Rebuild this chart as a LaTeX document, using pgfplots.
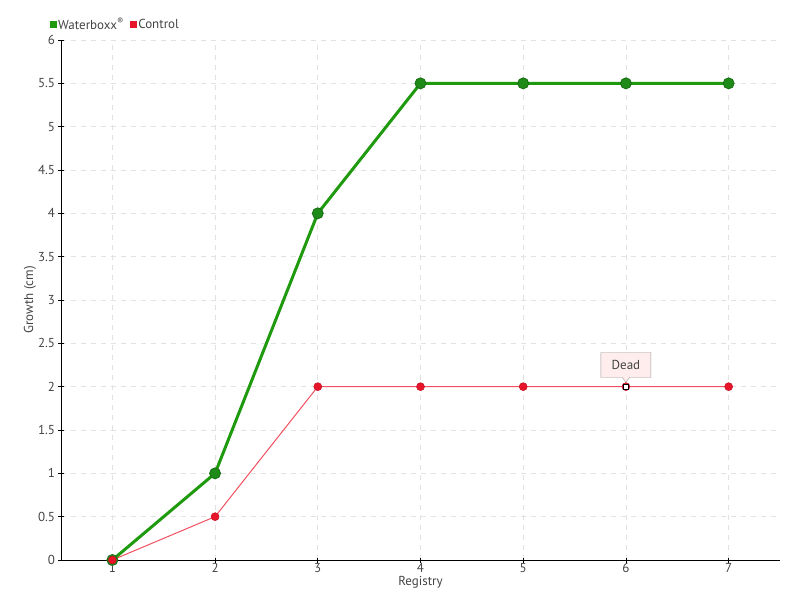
\documentclass[border=0pt]{standalone}
\usepackage{pgfplots}
\pgfplotsset{compat=1.18}
\usepackage{fontspec}
\setmainfont{PT Sans}
\usetikzlibrary{shapes.callouts}
\definecolor{wgreen}{HTML}{1F9A0E}
\definecolor{wgreenm}{HTML}{1E8A18}
\definecolor{cred}{HTML}{E8142A}
\definecolor{cline}{HTML}{F0505F}
\definecolor{txt}{HTML}{444444}
\definecolor{gridc}{HTML}{E2E2E2}
\begin{document}
\begin{tikzpicture}
\useasboundingbox (0,0) rectangle (800pt,600pt);
\begin{axis}[
  at={(61pt,40pt)}, anchor=south west,
  scale only axis, width=719pt, height=520pt,
  xmin=0.5, xmax=7.5, ymin=0, ymax=6,
  xtick={1,...,7}, ytick={0,0.5,...,6},
  yticklabels={0,0.5,1,1.5,2,2.5,3,3.5,4,4.5,5,5.5,6},
  axis x line*=bottom, axis y line*=left,
  axis line style={black, line width=0.8pt, -},
  tick style={black, line width=0.8pt},
  major tick length=5pt,
  tick align=center,
  grid=major,
  major grid style={gridc, dash pattern=on 5pt off 5pt, line width=0.8pt},
  tick label style={font=\fontsize{13}{13}\selectfont, text=txt},
  xticklabel style={yshift=3pt},
  /pgf/number format/assume math mode=true,
  xlabel={Registry}, ylabel={Growth (cm)},
  label style={font=\fontsize{13}{13}\selectfont, text=txt},
  xlabel style={at={(axis description cs:0.5,-0.0425)}, anchor=center},
  ylabel style={at={(axis description cs:-0.0431,0.5)}, anchor=center},
  clip=false,
  legend style={at={(axis description cs:-0.02,1.01)}, anchor=south west,
    legend columns=2, draw=none, fill=none, font=\fontsize{13}{13}\selectfont,
    text=txt, /tikz/every even column/.append style={column sep=4pt}},
  legend cell align=left,
]
\addlegendimage{legend image code/.code={\fill[wgreen] (0pt,-3pt) rectangle (6pt,3pt);}}
\addlegendentry{Waterboxx\textsuperscript{®}}
\addlegendimage{legend image code/.code={\fill[cred] (0pt,-3pt) rectangle (6pt,3pt);}}
\addlegendentry{Control}
\addplot[wgreen, line width=3pt, mark=*, mark size=5.5pt,
  mark options={fill=wgreenm, draw=wgreenm!80!black, line width=0.8pt}, forget plot]
  coordinates {(1,0) (2,1) (3,4) (4,5.5) (5,5.5) (6,5.5) (7,5.5)};
\addplot[cline, line width=1pt, mark=*, mark size=4pt,
  mark options={fill=cred, draw=cred!85!black, line width=0.5pt}, forget plot]
  coordinates {(1,0) (2,0.5) (3,2) (4,2) (5,2) (6,2) (7,2)};
\addplot[only marks, mark=square*, mark size=2.5pt,
  mark options={fill=white, draw=black, line width=1pt}, forget plot]
  coordinates {(6,2)};
\node[rectangle callout, draw=gray!80, fill=red!7, minimum width=50pt, minimum height=25pt,
  font=\fontsize{13}{13}\selectfont, text=txt,
  callout absolute pointer={(axis cs:6,2.05)}] at (axis cs:6,2.25) {Dead};
\end{axis}
\end{tikzpicture}
\end{document}
